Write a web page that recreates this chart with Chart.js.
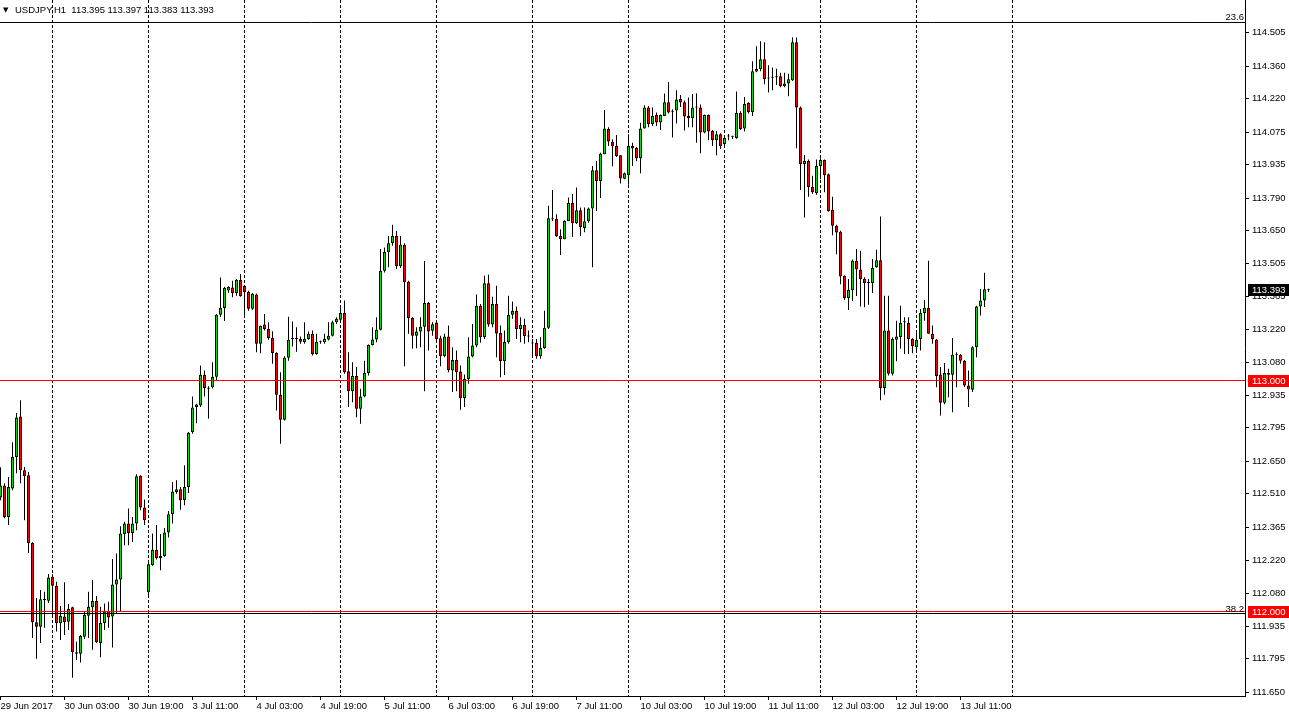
<!DOCTYPE html>
<html>
<head>
<meta charset="utf-8">
<title>USDJPY,H1</title>
<script src="https://cdn.jsdelivr.net/npm/chart.js@4.4.0/dist/chart.umd.min.js"></script>
<style>
  html, body { margin: 0; padding: 0; background: #fff; }
  #wrap { position: relative; width: 1289px; height: 717px; }
</style>
</head>
<body>
<div id="wrap"><canvas id="myChart"></canvas></div>
<script>
"use strict";
// H1 bars, index 0 = 29 Jun 11:00 ... index 247 = 13 Jul 18:00
let opens = [
  112.494, 112.546, 112.409, 112.532, 112.669, 112.844, 112.611, 112.590, 112.297, 111.953,
  111.934, 112.053, 112.046, 112.150, 112.111, 111.949, 111.978, 111.956, 112.018, 111.824,
  111.817, 111.891, 111.982, 112.018, 112.045, 111.864, 111.950, 112.002, 111.978, 112.117,
  112.139, 112.335, 112.381, 112.340, 112.381, 112.588, 112.450, 112.083, 112.201, 112.267,
  112.230, 112.240, 112.342, 112.421, 112.517, 112.529, 112.482, 112.539, 112.777, 112.885,
  112.892, 113.025, 112.968, 112.971, 113.016, 113.285, 113.314, 113.390, 113.403, 113.379,
  113.435, 113.409, 113.383, 113.311, 113.372, 113.159, 113.242, 113.223, 113.184, 113.119,
  112.938, 112.830, 113.098, 113.180, 113.180, 113.180, 113.166, 113.180, 113.202, 113.115,
  113.166, 113.166, 113.177, 113.194, 113.252, 113.263, 113.292, 113.040, 112.954, 113.019,
  112.878, 112.931, 113.033, 113.154, 113.177, 113.220, 113.475, 113.556, 113.594, 113.626,
  113.495, 113.588, 113.428, 113.271, 113.194, 113.212, 113.233, 113.336, 113.215, 113.251,
  113.183, 113.105, 113.190, 113.043, 113.089, 113.039, 112.924, 113.007, 113.104, 113.151,
  113.324, 113.187, 113.421, 113.242, 113.331, 113.206, 113.083, 113.167, 113.285, 113.302,
  113.223, 113.240, 113.193, 113.160, 113.163, 113.105, 113.141, 113.228, 113.700, 113.700,
  113.626, 113.612, 113.691, 113.768, 113.681, 113.737, 113.660, 113.689, 113.745, 113.910,
  113.864, 113.979, 114.089, 114.034, 114.015, 113.975, 113.873, 113.889, 114.015, 114.007,
  113.962, 114.091, 114.182, 114.110, 114.149, 114.117, 114.145, 114.205, 114.163, 114.169,
  114.219, 114.205, 114.145, 114.135, 114.182, 114.182, 114.074, 114.149, 114.080, 114.040,
  114.066, 114.024, 114.056, 114.055, 114.050, 114.158, 114.091, 114.201, 114.162, 114.338,
  114.348, 114.391, 114.307, 114.311, 114.313, 114.317, 114.274, 114.286, 114.300, 114.464,
  114.182, 113.937, 113.950, 113.838, 113.811, 113.929, 113.955, 113.893, 113.739, 113.670,
  113.644, 113.453, 113.357, 113.392, 113.518, 113.480, 113.441, 113.422, 113.422, 113.490,
  113.521, 112.967, 113.216, 113.029, 113.176, 113.187, 113.252, 113.249, 113.180, 113.144,
  113.180, 113.292, 113.315, 113.202, 113.177, 113.026, 112.904, 113.033, 113.025, 113.111,
  113.112, 113.086, 112.978, 112.960, 113.144, 113.320, 113.346, 113.395
];
let highs = [
  112.624, 112.555, 112.582, 112.733, 112.859, 112.914, 112.626, 112.604, 112.300, 112.058,
  112.093, 112.085, 112.162, 112.161, 112.129, 112.024, 112.127, 112.032, 112.021, 111.869,
  111.898, 112.000, 112.085, 112.136, 112.067, 112.021, 112.035, 112.042, 112.227, 112.251,
  112.369, 112.388, 112.446, 112.409, 112.594, 112.590, 112.485, 112.214, 112.338, 112.374,
  112.335, 112.362, 112.435, 112.561, 112.568, 112.539, 112.633, 112.777, 112.931, 112.899,
  113.065, 113.043, 112.975, 113.079, 113.288, 113.446, 113.406, 113.408, 113.432, 113.439,
  113.461, 113.409, 113.389, 113.379, 113.376, 113.238, 113.288, 113.252, 113.213, 113.122,
  113.036, 113.105, 113.276, 113.255, 113.231, 113.190, 113.252, 113.212, 113.216, 113.202,
  113.173, 113.202, 113.252, 113.259, 113.274, 113.317, 113.346, 113.122, 113.079, 113.058,
  112.964, 113.086, 113.156, 113.230, 113.274, 113.569, 113.576, 113.626, 113.674, 113.648,
  113.626, 113.594, 113.432, 113.274, 113.230, 113.274, 113.517, 113.340, 113.252, 113.259,
  113.194, 113.202, 113.238, 113.144, 113.130, 113.065, 113.026, 113.187, 113.245, 113.372,
  113.331, 113.454, 113.458, 113.363, 113.410, 113.238, 113.216, 113.367, 113.342, 113.320,
  113.274, 113.267, 113.216, 113.180, 113.180, 113.187, 113.302, 113.756, 113.825, 113.720,
  113.655, 113.694, 113.792, 113.807, 113.835, 113.749, 113.749, 113.749, 113.929, 113.950,
  113.986, 114.171, 114.096, 114.044, 114.063, 113.975, 113.900, 114.066, 114.029, 114.011,
  114.116, 114.192, 114.188, 114.182, 114.160, 114.152, 114.242, 114.292, 114.174, 114.256,
  114.236, 114.212, 114.225, 114.240, 114.243, 114.195, 114.152, 114.152, 114.084, 114.080,
  114.070, 114.053, 114.067, 114.060, 114.251, 114.166, 114.227, 114.205, 114.382, 114.447,
  114.469, 114.464, 114.365, 114.355, 114.350, 114.332, 114.332, 114.328, 114.486, 114.485,
  114.186, 113.976, 113.957, 113.886, 113.957, 113.962, 113.957, 113.896, 113.795, 113.674,
  113.648, 113.456, 113.439, 113.524, 113.569, 113.562, 113.447, 113.439, 113.526, 113.566,
  113.710, 113.367, 113.367, 113.187, 113.259, 113.324, 113.274, 113.274, 113.183, 113.209,
  113.310, 113.348, 113.518, 113.238, 113.180, 113.058, 113.076, 113.051, 113.184, 113.122,
  113.115, 113.089, 113.043, 113.148, 113.324, 113.396, 113.467, 113.397
];
let lows = [
  112.482, 112.404, 112.374, 112.525, 112.598, 112.555, 112.395, 112.253, 111.885, 111.795,
  111.864, 111.930, 112.037, 111.977, 111.913, 111.877, 111.898, 111.920, 111.713, 111.790,
  111.779, 111.881, 111.885, 111.834, 111.864, 111.802, 111.920, 111.930, 111.844, 111.992,
  112.000, 112.287, 112.287, 112.301, 112.352, 112.438, 112.374, 112.064, 112.198, 112.225,
  112.179, 112.237, 112.320, 112.381, 112.510, 112.441, 112.460, 112.513, 112.770, 112.815,
  112.885, 112.931, 112.834, 112.965, 113.000, 113.274, 113.258, 113.380, 113.360, 113.367,
  113.363, 113.274, 113.302, 113.305, 113.122, 113.118, 113.216, 113.176, 113.072, 112.870,
  112.726, 112.827, 113.086, 113.147, 113.125, 113.159, 113.159, 113.176, 113.108, 113.111,
  113.159, 113.159, 113.173, 113.190, 113.245, 113.259, 113.029, 112.885, 112.906, 112.841,
  112.813, 112.928, 113.022, 113.151, 113.166, 113.216, 113.468, 113.490, 113.583, 113.483,
  113.487, 113.062, 113.202, 113.137, 113.140, 113.144, 112.954, 113.130, 113.194, 113.166,
  113.062, 113.101, 113.036, 112.950, 112.954, 112.873, 112.885, 112.986, 113.101, 113.144,
  113.163, 113.180, 113.233, 113.230, 113.101, 113.014, 113.024, 113.159, 113.267, 113.180,
  113.166, 113.159, 113.166, 113.101, 113.094, 113.094, 113.137, 113.223, 113.691, 113.621,
  113.543, 113.612, 113.691, 113.621, 113.677, 113.626, 113.642, 113.683, 113.490, 113.734,
  113.790, 113.979, 114.015, 113.927, 113.968, 113.853, 113.871, 113.847, 113.929, 113.949,
  113.897, 114.091, 114.096, 114.102, 114.102, 114.084, 114.145, 114.156, 114.052, 114.113,
  114.184, 114.082, 114.096, 114.096, 114.029, 113.984, 114.070, 114.040, 114.015, 113.975,
  114.002, 114.015, 114.040, 114.045, 114.047, 114.084, 114.078, 114.156, 114.145, 114.334,
  114.339, 114.282, 114.247, 114.256, 114.279, 114.270, 114.270, 114.231, 114.297, 114.005,
  113.825, 113.706, 113.795, 113.808, 113.804, 113.871, 113.815, 113.730, 113.629, 113.547,
  113.417, 113.348, 113.305, 113.344, 113.366, 113.320, 113.317, 113.328, 113.379, 113.488,
  112.914, 112.938, 113.022, 113.022, 113.083, 113.137, 113.115, 113.115, 113.118, 113.122,
  113.130, 113.259, 113.202, 113.159, 112.971, 112.849, 112.897, 112.928, 112.863, 112.971,
  113.072, 112.971, 112.885, 112.950, 113.101, 113.281, 113.318, 113.383
];
let closes = [
  112.546, 112.409, 112.539, 112.669, 112.840, 112.611, 112.587, 112.297, 111.953, 111.934,
  112.053, 112.050, 112.147, 112.111, 111.949, 111.982, 111.953, 112.011, 111.824, 111.817,
  111.894, 111.985, 112.021, 112.045, 111.867, 111.950, 112.000, 111.974, 112.117, 112.139,
  112.338, 112.381, 112.340, 112.381, 112.585, 112.450, 112.395, 112.205, 112.267, 112.230,
  112.240, 112.342, 112.421, 112.520, 112.529, 112.482, 112.539, 112.774, 112.883, 112.896,
  113.025, 112.968, 112.964, 113.016, 113.285, 113.314, 113.400, 113.405, 113.379, 113.435,
  113.366, 113.383, 113.311, 113.376, 113.159, 113.236, 113.223, 113.184, 113.119, 112.938,
  112.830, 113.098, 113.176, 113.180, 113.180, 113.168, 113.180, 113.202, 113.115, 113.168,
  113.166, 113.180, 113.194, 113.252, 113.267, 113.292, 113.036, 112.954, 113.019, 112.878,
  112.931, 113.033, 113.154, 113.177, 113.220, 113.475, 113.556, 113.594, 113.626, 113.495,
  113.588, 113.425, 113.271, 113.194, 113.212, 113.233, 113.336, 113.212, 113.243, 113.180,
  113.105, 113.190, 113.046, 113.089, 113.036, 112.924, 113.007, 113.104, 113.151, 113.324,
  113.187, 113.421, 113.242, 113.331, 113.204, 113.083, 113.167, 113.285, 113.302, 113.223,
  113.240, 113.193, 113.190, 113.160, 113.105, 113.141, 113.228, 113.702, 113.700, 113.625,
  113.612, 113.691, 113.768, 113.681, 113.737, 113.665, 113.689, 113.745, 113.910, 113.864,
  113.982, 114.091, 114.035, 114.014, 113.972, 113.875, 113.897, 114.015, 114.004, 113.962,
  114.091, 114.182, 114.110, 114.145, 114.117, 114.149, 114.205, 114.160, 114.163, 114.217,
  114.204, 114.143, 114.135, 114.182, 114.182, 114.074, 114.149, 114.078, 114.040, 114.066,
  114.014, 114.050, 114.056, 114.055, 114.158, 114.089, 114.197, 114.162, 114.339, 114.348,
  114.391, 114.304, 114.307, 114.311, 114.313, 114.274, 114.286, 114.304, 114.464, 114.182,
  113.937, 113.950, 113.838, 113.815, 113.929, 113.955, 113.890, 113.734, 113.670, 113.641,
  113.450, 113.357, 113.392, 113.518, 113.482, 113.439, 113.422, 113.422, 113.487, 113.521,
  112.967, 113.216, 113.029, 113.180, 113.190, 113.249, 113.252, 113.180, 113.148, 113.176,
  113.292, 113.315, 113.202, 113.180, 113.019, 112.904, 113.033, 113.025, 113.112, 113.111,
  113.086, 112.978, 112.961, 113.144, 113.320, 113.346, 113.395, 113.393
];

// time axis: a label every 16 bars, a dashed separator at each day start
let xLabelBars = [0, 16, 32, 48, 64, 80, 96, 112, 128, 144, 160, 176, 192, 208, 224, 240];
let xLabels = ["29 Jun 2017", "30 Jun 03:00", "30 Jun 19:00", "3 Jul 11:00", "4 Jul 03:00",
  "4 Jul 19:00", "5 Jul 11:00", "6 Jul 03:00", "6 Jul 19:00", "7 Jul 11:00", "10 Jul 03:00",
  "10 Jul 19:00", "11 Jul 11:00", "12 Jul 03:00", "12 Jul 19:00", "13 Jul 11:00"];
let dayBars = [13, 37, 61, 85, 109, 133, 157, 181, 205, 229, 253];

// price axis
let yTicks = [114.505, 114.360, 114.220, 114.075, 113.935, 113.790, 113.650, 113.505,
  113.365, 113.220, 113.080, 112.935, 112.795, 112.650, 112.510, 112.365, 112.220,
  112.080, 111.935, 111.795, 111.650];
let levelLines = [113.000, 112.000];
let fibLevels = [114.5498, 111.9913];
let fibNames = ["23.6", "38.2"];
let header = "USDJPY,H1  113.395 113.397 113.383 113.393";

let xMin = -0.125, xMax = 311.125;
let yMin = 111.6342, yMax = 114.6472;
let GREEN = "#00e000", RED = "#ff0000";
let FONT = "'Liberation Sans', Arial, sans-serif";

let bodyData = [];
let wickData = [];
for (let i = 0; i < closes.length; i++) {
  bodyData.push({ x: i, y: [opens[i], closes[i]] });
  wickData.push({ x: i, y: [lows[i], highs[i]] });
}

function candleColor(c) {
  let i = c.dataIndex;
  if (closes[i] > opens[i]) return GREEN;
  if (closes[i] < opens[i]) return RED;
  return "#000";
}

let datasets = [];
fibLevels.forEach(function (lv) {
  datasets.push({
    type: "line", data: [{ x: xMin, y: lv }, { x: xMax, y: lv }],
    borderColor: "#000", borderWidth: 1, pointRadius: 0, order: 0
  });
});
levelLines.forEach(function (lv) {
  datasets.push({
    type: "line", data: [{ x: xMin, y: lv }, { x: xMax, y: lv }],
    borderColor: RED, borderWidth: 1, pointRadius: 0, order: 0
  });
});
datasets.push({
  type: "bar", data: bodyData,
  backgroundColor: candleColor, borderColor: "#000", borderWidth: 1,
  borderSkipped: false, barThickness: 3, minBarLength: 1,
  inflateAmount: 0, grouped: false, order: 1
});
datasets.push({
  type: "bar", data: wickData,
  backgroundColor: "#000", borderWidth: 0, barThickness: 1,
  inflateAmount: 0, grouped: false, order: 2
});

let allXTicks = xLabelBars.concat(dayBars).sort(function (a, b) { return a - b; });
function isDay(v) { return dayBars.indexOf(v) >= 0; }

//labels drawn the MT4 way: header, fib names, price tags
let mtOverlay = {
  id: "mtOverlay",
  afterDraw(chart) {
    let ctx = chart.ctx;
    let area = chart.chartArea;
    let ys = chart.scales.y;
    ctx.save();
    ctx.fillStyle = "#000";
    ctx.textBaseline = "middle";
    ctx.textAlign = "left";
    ctx.font = "7px 'DejaVu Sans'";
    ctx.fillText("\u25BC", 3, 10);
    ctx.font = "9.5px " + FONT;
    ctx.fillText(header, 15, 10);

    ctx.textAlign = "right";
    ctx.textBaseline = "alphabetic";
    for (let k = 0; k < fibLevels.length; k++) {
      let py = Math.round(ys.getPixelForValue(fibLevels[k]));
      ctx.fillText(fibNames[k], area.right - 1, py - 2);
    }

    let tags = [];
    levelLines.forEach(function (lv) { tags.push({ v: lv, bg: RED }); });
    tags.push({ v: closes[closes.length - 1], bg: "#000" });
    ctx.textAlign = "left";
    ctx.textBaseline = "middle";
    tags.forEach(function (t) {
      let py = Math.round(ys.getPixelForValue(t.v));
      ctx.fillStyle = t.bg;
      ctx.fillRect(area.right + 3, py - 6, 44, 12);
      ctx.fillStyle = "#fff";
      ctx.fillText(t.v.toFixed(3), area.right + 7, py);
    });
    ctx.restore();
  }
};

let myChart = new Chart(document.getElementById("myChart").getContext("2d"), {
  type: "bar",
  data: { datasets: datasets },
  options: {
    responsive: true,
    maintainAspectRatio: false,
    animation: false,
    events: [],
    layout: { padding: 0 },
    plugins: { legend: { display: false }, tooltip: { enabled: false } },
    scales: {
      x: {
        type: "linear", min: xMin, max: xMax, offset: false,
        afterBuildTicks: function (s) { s.ticks = allXTicks.map(function (v) { return { value: v }; }); },
        afterFit: function (s) { s.height = 21; s.paddingLeft = 0; s.paddingRight = 0; },
        grid: {
          offset: false,
          color: function (c) { return isDay(c.tick.value) ? "#000" : "rgba(0,0,0,0)"; },
          tickColor: function (c) { return isDay(c.tick.value) ? "rgba(0,0,0,0)" : "#000"; },
          tickLength: 4, lineWidth: 1
        },
        border: { display: true, color: "#000", width: 1, dash: [3, 2] },
        ticks: {
          autoSkip: false, maxRotation: 0, align: "start", padding: 1,
          color: "#000", font: { family: FONT, size: 9.5 },
          callback: function (v) {
            let k = xLabelBars.indexOf(v);
            return k >= 0 ? xLabels[k] : "";
          }
        }
      },
      y: {
        type: "linear", position: "right", min: yMin, max: yMax, beginAtZero: false,
        afterBuildTicks: function (s) { s.ticks = yTicks.map(function (v) { return { value: v }; }); },
        afterFit: function (s) { s.width = 44; s.paddingTop = 0; s.paddingBottom = 0; },
        grid: { drawOnChartArea: false, color: "#000", tickColor: "#000", tickLength: 4 },
        border: { display: true, color: "#000", width: 1 },
        ticks: {
          autoSkip: false, padding: 3, color: "#000",
          font: { family: FONT, size: 9.5 },
          callback: function (v) { return v.toFixed(3); }
        }
      }
    }
  },
  plugins: [mtOverlay]
});
</script>
</body>
</html>
